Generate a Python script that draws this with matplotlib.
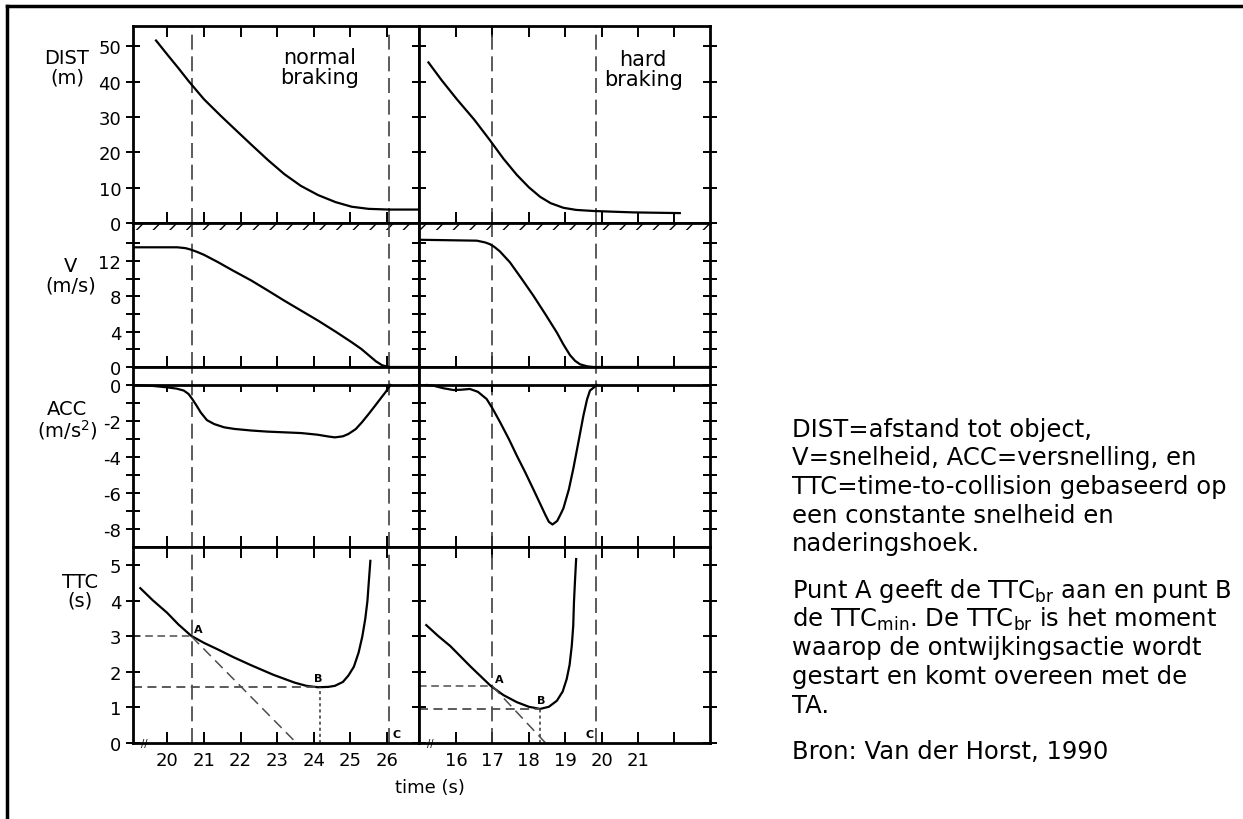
import matplotlib.pyplot as plt
from matplotlib.patches import Rectangle
from matplotlib.lines import Line2D

# values (Van der Horst, 1990)
# normal braking (left column)
norm_dist_t = [19.69, 20.0, 20.3, 20.59, 21.0, 21.46, 21.9, 22.29, 22.75, 23.2, 23.65,
               24.12, 24.6, 25.04, 25.5, 26.05, 26.9]
norm_dist = [51.6, 47.6, 43.8, 40.0, 35.0, 30.3, 26.0, 22.2, 17.8, 13.8, 10.5,
             7.9, 5.9, 4.6, 4.0, 3.8, 3.8]
norm_v_t = [19.07, 19.6, 20.27, 20.5, 20.63, 20.8, 21.0, 21.37, 21.8, 22.29, 22.75, 23.2,
            23.65, 24.12, 24.6, 25.04, 25.3, 25.5, 25.7, 25.87, 26.0, 26.1, 26.9]
norm_v = [13.55, 13.55, 13.55, 13.45, 13.3, 13.05, 12.7, 11.9, 10.9, 9.8, 8.65, 7.5,
          6.4, 5.25, 4.0, 2.8, 2.05, 1.35, 0.65, 0.2, 0.05, 0.0, 0.0]
norm_acc_t = [19.07, 19.6, 19.99, 20.25, 20.45, 20.58, 20.68, 20.8, 20.91, 21.08, 21.28,
              21.55, 21.83, 22.3, 22.74, 23.2, 23.66, 24.1, 24.4, 24.58, 24.8, 24.95, 25.15,
              25.32, 25.5, 25.68, 25.83, 25.96, 26.1]
norm_acc = [0, -0.05, -0.13, -0.2, -0.31, -0.5, -0.78, -1.15, -1.52, -1.95, -2.17,
            -2.35, -2.44, -2.53, -2.59, -2.63, -2.67, -2.76, -2.86, -2.91, -2.85, -2.72, -2.45,
            -2.07, -1.62, -1.15, -0.75, -0.41, 0.0]
norm_ttc_t = [19.26, 19.6, 19.99, 20.3, 20.65, 21.0, 21.37, 21.8, 22.29, 22.9, 23.48,
              23.8, 24.12, 24.4, 24.58, 24.8, 24.95, 25.1, 25.23, 25.33, 25.41, 25.47,
              25.5, 25.55]
norm_ttc = [4.36, 4.02, 3.67, 3.34, 3.02, 2.82, 2.64, 2.42, 2.19, 1.92, 1.7,
            1.61, 1.57, 1.58, 1.61, 1.72, 1.9, 2.15, 2.55, 3.0, 3.49, 4.0,
            4.43, 5.13]
norm_A = (20.66, 3.0)
norm_B = (24.16, 1.58)
norm_C = 26.05
norm_tangent_end = 23.53

# hard braking (right column)
hard_dist_t = [15.24, 15.6, 16.02, 16.5, 16.93, 17.3, 17.67, 18.0, 18.31, 18.6, 18.95,
               19.3, 19.77, 20.3, 20.87, 21.5, 22.15]
hard_dist = [45.4, 40.4, 35.0, 29.2, 23.4, 18.2, 13.6, 10.1, 7.4, 5.6, 4.3,
             3.7, 3.4, 3.2, 3.0, 2.9, 2.8]
hard_v_t = [15.01, 15.8, 16.57, 16.8, 16.93, 17.05, 17.2, 17.48, 17.8, 18.12, 18.45, 18.77,
            18.95, 19.13, 19.27, 19.41, 19.6, 19.77, 22.98]
hard_v = [14.4, 14.35, 14.3, 14.1, 13.9, 13.6, 13.1, 11.85, 10.0, 8.1, 6.0, 3.9,
          2.55, 1.35, 0.7, 0.3, 0.08, 0.0, 0.0]
hard_acc_t = [15.2, 15.38, 15.65, 15.93, 16.15, 16.38, 16.6, 16.84, 17.0, 17.21, 17.45,
              17.67, 17.9, 18.12, 18.3, 18.45, 18.55, 18.65, 18.78, 18.88, 18.95, 19.1,
              19.22, 19.36, 19.5, 19.6, 19.68, 19.87]
hard_acc = [0, -0.04, -0.18, -0.28, -0.26, -0.22, -0.38, -0.78, -1.3, -2.07, -3.0,
            -3.93, -4.85, -5.78, -6.55, -7.2, -7.6, -7.75, -7.55, -7.15, -6.85, -5.8,
            -4.67, -3.2, -1.7, -0.8, -0.31, 0.0]
hard_ttc_t = [15.18, 15.5, 15.84, 16.4, 16.95, 17.3, 17.67, 18.0, 18.31, 18.55, 18.77,
              18.93, 19.04, 19.12, 19.18, 19.22, 19.24, 19.27, 19.3]
hard_ttc = [3.32, 3.02, 2.73, 2.15, 1.61, 1.35, 1.15, 1.02, 0.96, 1.02, 1.19,
            1.45, 1.8, 2.2, 2.74, 3.3, 3.96, 4.6, 5.18]
hard_A = (17.0, 1.6)
hard_B = (18.3, 0.96)
hard_C = 19.85
hard_tangent_end = 18.46

left_xticks = [20, 21, 22, 23, 24, 25, 26]
right_xticks = [16, 17, 18, 19, 20, 21, 22]
right_xlabels = ['16', '17', '18', '19', '20', '21', '']

W, H = 1243, 820
plt.rcParams['font.family'] = ['DejaVu Sans']
plt.rcParams['hatch.linewidth'] = 1.0
plt.rcParams['axes.unicode_minus'] = False

fig = plt.figure(figsize=(W / 100, H / 100), dpi=100)


def fx(x):
    return x / W


def fy(y):
    return 1 - y / H


cols = [(133, 419), (419, 710)]
rows = [(27, 224), (224, 368), (368, 548), (548, 744)]
xlims = [(19.06, 26.88), (14.98, 22.98)]

axes = []
for r, (y0, y1) in enumerate(rows):
    row = []
    for c, (x0, x1) in enumerate(cols):
        ax = fig.add_axes([fx(x0), fy(y1), (x1 - x0) / W, (y1 - y0) / H])
        ax.set_xlim(*xlims[c])
        for s in ax.spines.values():
            s.set_linewidth(2)
        ax.tick_params(axis='x', direction='in', top=(r != 2 and r != 1), bottom=True,
                       length=8, width=1.4, labelbottom=False, labelsize=13)
        ax.tick_params(axis='y', direction='inout', left=True, right=True,
                       length=10, width=1.4, labelleft=(c == 0), labelsize=13)
        ax.tick_params(axis='y', which='minor', direction='inout', left=True, right=True,
                       length=10, width=1.4)
        row.append(ax)
    axes.append(row)

sets = [
    (norm_dist_t, norm_dist, norm_v_t, norm_v, norm_acc_t, norm_acc, norm_ttc_t, norm_ttc,
     norm_A, norm_B, norm_C, norm_tangent_end, left_xticks,
     [str(t) for t in left_xticks]),
    (hard_dist_t, hard_dist, hard_v_t, hard_v, hard_acc_t, hard_acc, hard_ttc_t, hard_ttc,
     hard_A, hard_B, hard_C, hard_tangent_end, right_xticks, right_xlabels),
]

dash = (0, (9, 4))
for c, (dt, d, vt, v, at, a, tt, ttc, A, B, C, tend, xt, xl) in enumerate(sets):
    ax_d, ax_v, ax_a, ax_t = axes[0][c], axes[1][c], axes[2][c], axes[3][c]
    for ax in (ax_d, ax_v, ax_a, ax_t):
        ax.set_xticks(xt)
        ax.axvline(A[0], color='0.25', lw=1.2, ls=dash)
        ax.axvline(C, color='0.25', lw=1.2, ls=dash)

    ax_d.plot(dt, d, color='black', lw=1.6)
    ax_d.set_ylim(0, 55.7)
    ax_d.set_yticks([0, 10, 20, 30, 40, 50])

    ax_v.plot(vt, v, color='black', lw=1.6)
    ax_v.set_ylim(0, 16.3)
    ax_v.set_yticks([0, 4, 8, 12])
    ax_v.set_yticks([2, 6, 10, 14], minor=True)
    ax_v.add_patch(Rectangle((0, 1 - 7 / 144), 1, 7 / 144, transform=ax_v.transAxes,
                             hatch='//', fill=False, edgecolor='black', lw=0))

    ax_a.plot(at, a, color='black', lw=1.6)
    ax_a.set_ylim(-9, 1)
    ax_a.axhline(0, color='black', lw=2)
    ax_a.vlines(xt, -0.4, 0, color='black', lw=1.4)
    ax_a.set_yticks([-8, -6, -4, -2, 0])
    ax_a.set_yticks([-7, -5, -3, -1], minor=True)

    ax_t.plot(tt, ttc, color='black', lw=1.6)
    ax_t.set_ylim(0, 5.52)
    ax_t.set_yticks([0, 1, 2, 3, 4, 5])
    x_left = ax_t.get_xlim()[0]
    ax_t.plot([x_left, A[0]], [A[1], A[1]], color='0.3', lw=1.1, ls=(0, (5, 3)))
    ax_t.plot([x_left, B[0]], [B[1], B[1]], color='0.3', lw=1.3, ls=(0, (5, 3)))
    ax_t.plot([B[0], B[0]], [0, B[1]], color='0.2', lw=1.1, ls=(0, (2, 2)))
    ax_t.plot([A[0], tend], [A[1], 0], color='0.3', lw=1.1, ls=(0, (7, 4)))
    ax_t.text(A[0] + 0.07, A[1] + 0.07, 'A', fontsize=8, fontweight='bold', va='bottom')
    ax_t.set_xticklabels(xl)
    ax_t.tick_params(axis='x', labelbottom=True, pad=6)
    ax_t.text(0.04, 0, '//', transform=ax_t.transAxes, fontsize=7, ha='center', va='center')

# point labels B and C differ in placement between the two columns
axes[3][0].text(norm_B[0] - 0.05, norm_B[1] + 0.12, 'B', fontsize=8, fontweight='bold',
                ha='center', va='bottom')
axes[3][1].text(hard_B[0] + 0.05, hard_B[1] + 0.1, 'B', fontsize=8, fontweight='bold',
                ha='center', va='bottom')
axes[3][0].text(norm_C + 0.1, 0.12, 'C', fontsize=8, fontweight='bold', ha='left', va='bottom')
axes[3][1].text(hard_C - 0.08, 0.12, 'C', fontsize=8, fontweight='bold', ha='right', va='bottom')

axes[0][0].text(24.16, 44, 'normal\nbraking', fontsize=15, ha='center', va='center',
                linespacing=1.0)
axes[0][1].text(21.14, 43.5, 'hard\nbraking', fontsize=15, ha='center', va='center',
                linespacing=1.0)

# axis titles at the left
fig.text(fx(67), fy(68), 'DIST\n(m)', fontsize=14, ha='center', va='center', linespacing=1.0)
fig.text(fx(71), fy(276), 'V\n(m/s)', fontsize=14, ha='center', va='center', linespacing=1.0)
fig.text(fx(67), fy(421), 'ACC\n(m/s$^2$)', fontsize=14, ha='center', va='center',
         linespacing=1.0)
fig.text(fx(80), fy(592), 'TTC\n(s)', fontsize=14, ha='center', va='center', linespacing=1.0)
fig.text(fx(430), fy(788), 'time (s)', fontsize=13, ha='center', va='center')

# frame of the page
fig.add_artist(Line2D([fx(7), 1], [fy(7), fy(7)], color='black', lw=2.5))
fig.add_artist(Line2D([fx(7), fx(7)], [fy(7), 0], color='black', lw=2.5))

# caption on the right
caption = [
    (437, 'DIST=afstand tot object,'),
    (465, 'V=snelheid, ACC=versnelling, en'),
    (494, 'TTC=time-to-collision gebaseerd op'),
    (523, 'een constante snelheid en'),
    (551, 'naderingshoek.'),
    (598, r'Punt A geeft de TTC$_{\rm br}$ aan en punt B'),
    (627, r'de TTC$_{\rm min}$. De TTC$_{\rm br}$ is het moment'),
    (655, 'waarop de ontwijkingsactie wordt'),
    (684, 'gestart en komt overeen met de'),
    (713, 'TA.'),
    (759, 'Bron: Van der Horst, 1990'),
]
for y, line in caption:
    fig.text(fx(792), fy(y), line, fontsize=17.5, ha='left', va='baseline')

fig.savefig('out.png', dpi=100)
